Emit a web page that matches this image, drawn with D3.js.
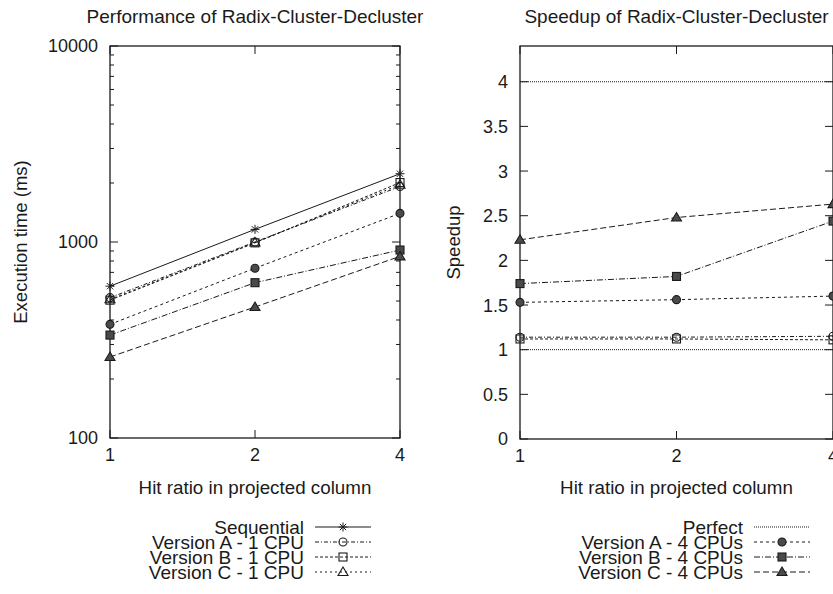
<!DOCTYPE html>
<html>
<head>
<meta charset="utf-8">
<script src="https://cdn.jsdelivr.net/npm/d3@7"></script>
<style>
  body { margin: 0; background: #fff; }
  svg { display: block; font-family: "Liberation Sans", Arial, sans-serif; }
</style>
</head>
<body>
<div id="chart"></div>
<script>
// x values (hit ratio)
var hitRatio = [1, 2, 4];

// left panel: execution time (ms)
var seqTime   = [595, 1160, 2230];
var verA1Time = [520, 1000, 1920];
var verB1Time = [505, 990, 2010];
var verC1Time = [510, 995, 1960];
var verA4Time = [380, 735, 1400];
var verB4Time = [335, 620, 910];
var verC4Time = [259, 466, 845];

// right panel: speedup
var perfect4  = [4, 4, 4];
var perfect1  = [1, 1, 1];
var speedA1   = [1.14, 1.14, 1.15];
var speedB1   = [1.12, 1.12, 1.11];
var speedA4   = [1.53, 1.56, 1.60];
var speedB4   = [1.74, 1.82, 2.44];
var speedC4   = [2.23, 2.48, 2.63];

var leftTicksY  = [100, 1000, 10000];
var rightTicksY = [0, 0.5, 1, 1.5, 2, 2.5, 3, 3.5, 4];

var W = 833, H = 594;
var ink = "#1a1a1a";

var svg = d3.select("#chart").append("svg")
    .attr("width", W).attr("height", H);

function drawMarker(g, type, x, y) {
    var s = 4.5;
    if (type == "star") {
        g.append("path")
            .attr("d", "M" + (x - s) + "," + y + "H" + (x + s) +
                "M" + (x - s * 0.7) + "," + (y - s * 0.7) + "L" + (x + s * 0.7) + "," + (y + s * 0.7) +
                "M" + (x - s * 0.7) + "," + (y + s * 0.7) + "L" + (x + s * 0.7) + "," + (y - s * 0.7) +
                "M" + x + "," + (y - s) + "V" + (y + s))
            .attr("stroke", ink).attr("stroke-width", 1).attr("fill", "none");
        return;
    }
    var open = type.indexOf("open") == 0;
    var fill = open ? "none" : "#4a4a4a";
    var m;
    if (type.indexOf("circle") >= 0) {
        m = g.append("circle").attr("cx", x).attr("cy", y).attr("r", 4);
    } else if (type.indexOf("square") >= 0) {
        m = g.append("rect").attr("x", x - 4).attr("y", y - 4).attr("width", 8).attr("height", 8);
    } else {
        m = g.append("path").attr("d", "M" + x + "," + (y - 5) + "L" + (x + 5) + "," + (y + 3.5) + "L" + (x - 5) + "," + (y + 3.5) + "Z");
    }
    m.attr("fill", fill).attr("stroke", ink).attr("stroke-width", 1.1);
}

function drawPanel(opt) {
    var g = svg.append("g");
    var x = d3.scaleLog().base(2).domain([1, 4]).range([opt.left, opt.right]);
    var y = opt.y;

    // frame
    g.append("rect")
        .attr("x", opt.left).attr("y", opt.top)
        .attr("width", opt.right - opt.left).attr("height", opt.bottom - opt.top)
        .attr("fill", "none").attr("stroke", ink).attr("stroke-width", 1.3);

    // y ticks (inside, mirrored)
    opt.yTicks.forEach(function (t) {
        var yy = y(t);
        g.append("line").attr("x1", opt.left).attr("x2", opt.left + 8).attr("y1", yy).attr("y2", yy).attr("stroke", ink);
        g.append("line").attr("x1", opt.right).attr("x2", opt.right - 8).attr("y1", yy).attr("y2", yy).attr("stroke", ink);
        g.append("text").attr("x", opt.left - 12).attr("y", yy).attr("dy", "0.36em")
            .attr("text-anchor", "end").attr("font-size", 18).attr("fill", ink)
            .text(t);
    });
    (opt.minorY || []).forEach(function (t) {
        var yy = y(t);
        g.append("line").attr("x1", opt.left).attr("x2", opt.left + 4).attr("y1", yy).attr("y2", yy).attr("stroke", ink);
        g.append("line").attr("x1", opt.right).attr("x2", opt.right - 4).attr("y1", yy).attr("y2", yy).attr("stroke", ink);
    });

    // x ticks
    hitRatio.forEach(function (t) {
        var xx = x(t);
        g.append("line").attr("x1", xx).attr("x2", xx).attr("y1", opt.bottom).attr("y2", opt.bottom - 8).attr("stroke", ink);
        g.append("line").attr("x1", xx).attr("x2", xx).attr("y1", opt.top).attr("y2", opt.top + 8).attr("stroke", ink);
        g.append("text").attr("x", xx).attr("y", opt.bottom + 23)
            .attr("text-anchor", "middle").attr("font-size", 18).attr("fill", ink)
            .text(t);
    });

    // titles
    g.append("text").attr("x", (opt.left + opt.right) / 2).attr("y", 23)
        .attr("text-anchor", "middle").attr("font-size", 19).attr("fill", ink).text(opt.title);
    g.append("text").attr("x", (opt.left + opt.right) / 2).attr("y", 494)
        .attr("text-anchor", "middle").attr("font-size", 18.8).attr("fill", ink).text("Hit ratio in projected column");
    g.append("text").attr("transform", "translate(" + opt.yLabelX + "," + ((opt.top + opt.bottom) / 2) + ") rotate(-90)")
        .attr("text-anchor", "middle").attr("dy", "0.36em").attr("font-size", 18.5).attr("fill", ink).text(opt.yLabel);

    // series
    var line = d3.line().x(function (d, i) { return x(hitRatio[i]); }).y(function (d) { return y(d); });
    opt.series.forEach(function (s) {
        g.append("path").datum(s.values).attr("d", line)
            .attr("fill", "none").attr("stroke", ink).attr("stroke-width", 1)
            .attr("stroke-dasharray", s.dash);
        if (s.marker) {
            s.values.forEach(function (v, i) { drawMarker(g, s.marker, x(hitRatio[i]), y(v)); });
        }
    });

    // legend
    opt.series.filter(function (s) { return s.label; }).forEach(function (s, i) {
        var ly = 527 + i * 15;
        g.append("text").attr("x", opt.legX).attr("y", ly).attr("dy", "0.36em")
            .attr("text-anchor", "end").attr("font-size", 19).attr("fill", ink).text(s.label);
        g.append("line").attr("x1", opt.legX + 11).attr("x2", opt.legX + 67).attr("y1", ly).attr("y2", ly)
            .attr("stroke", ink).attr("stroke-width", 1).attr("stroke-dasharray", s.dash);
        if (s.marker) drawMarker(g, s.marker, opt.legX + 39, ly);
    });
}

// left panel: log scale
var yLeft = d3.scaleLog().domain([100, 10000]).range([438, 46]);
var minorLeft = [];
[100, 1000].forEach(function (b) { for (var k = 2; k <= 9; k++) minorLeft.push(b * k); });

drawPanel({
    left: 110, right: 400, top: 46, bottom: 438, y: yLeft,
    yTicks: leftTicksY, minorY: minorLeft, yLabelX: 20,
    title: "Performance of Radix-Cluster-Decluster",
    yLabel: "Execution time (ms)", legX: 304,
    series: [
        { label: "Sequential", values: seqTime, dash: null, marker: "star" },
        { label: "Version A - 1 CPU", values: verA1Time, dash: "4,2,1,2", marker: "opencircle" },
        { label: "Version B - 1 CPU", values: verB1Time, dash: "3,2", marker: "opensquare" },
        { label: "Version C - 1 CPU", values: verC1Time, dash: "2,3", marker: "opentriangle" },
        { values: verA4Time, dash: "3,3", marker: "circle" },
        { values: verB4Time, dash: "6,2,1,2", marker: "square" },
        { values: verC4Time, dash: "6,3", marker: "triangle" }
    ]
});

// right panel: speedup
var yRight = d3.scaleLinear().domain([0, 4.4]).range([439, 46]);

drawPanel({
    left: 520, right: 833, top: 46, bottom: 439, y: yRight,
    yTicks: rightTicksY, yLabelX: 453,
    title: "Speedup of Radix-Cluster-Decluster",
    yLabel: "Speedup", legX: 743,
    series: [
        { label: "Perfect", values: perfect4, dash: "1,1", marker: null },
        { values: perfect1, dash: "1,1", marker: null },
        { values: speedA1, dash: "4,2,1,2", marker: "opencircle" },
        { values: speedB1, dash: "3,2", marker: "opensquare" },
        { label: "Version A - 4 CPUs", values: speedA4, dash: "3,3", marker: "circle" },
        { label: "Version B - 4 CPUs", values: speedB4, dash: "6,2,1,2", marker: "square" },
        { label: "Version C - 4 CPUs", values: speedC4, dash: "6,3", marker: "triangle" }
    ]
});
</script>
</body>
</html>
